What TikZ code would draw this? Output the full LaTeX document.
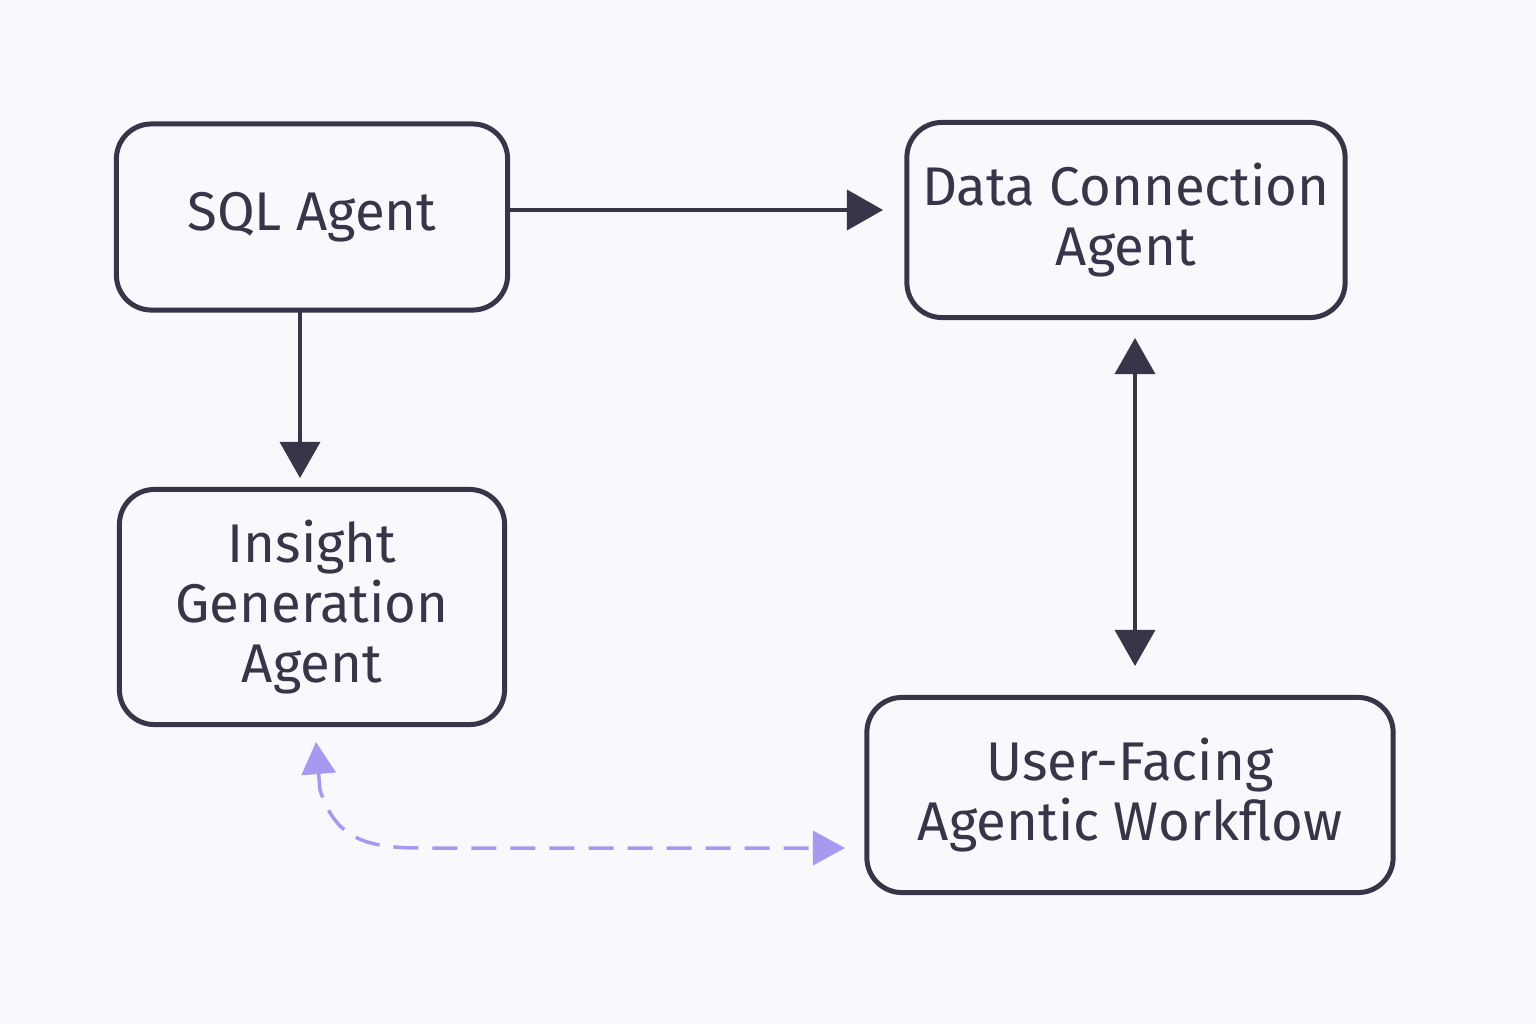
\documentclass[tikz,border=0pt]{standalone}
\usepackage{fontspec}
\setmainfont{Fira Sans}
\usetikzlibrary{arrows.meta}
\definecolor{ink}{HTML}{363648}
\definecolor{bg}{HTML}{F9F8FD}
\definecolor{lav}{HTML}{A899F0}
\begin{document}
\begin{tikzpicture}[x=0.01cm,y=-0.01cm,
  box/.style={draw=ink,line width=0.5mm,rounded corners=0.35cm,fill=bg,align=center,text=ink,inner sep=0pt,font=\fontsize{15.5}{17}\selectfont},
  arr/.style={draw=ink,line width=0.35mm,-{Triangle[length=0.36cm,width=0.4cm]}},
  darr/.style={draw=ink,line width=0.35mm,{Triangle[length=0.36cm,width=0.4cm]}-{Triangle[length=0.36cm,width=0.4cm]}},
  parr/.style={draw=lav,line width=0.35mm,dash pattern=on 0.25cm off 0.14cm,{Triangle[length=0.32cm,width=0.34cm]}-{Triangle[length=0.32cm,width=0.34cm]}}]
\fill[bg] (0,0) rectangle (1536,1024);
\node[box,minimum width=3.91cm,minimum height=1.86cm] (sql) at (312,217) {SQL Agent};
\node[box,minimum width=4.38cm,minimum height=1.95cm] (dc) at (1126,220) {Data Connection\\Agent};
\node[box,minimum width=3.85cm,minimum height=2.35cm] (ig) at (312,607) {Insight\\Generation\\Agent};
\node[box,minimum width=5.26cm,minimum height=1.95cm] (uf) at (1130,795) {User-Facing\\Agentic Workflow};
\coordinate (a1) at (sql.east |- 0,210);
\coordinate (a2) at (883,210);
\draw[arr] (a1) -- (a2);
\coordinate (b1) at (300,310);
\coordinate (b2) at (300,478);
\draw[arr] (b1) -- (b2);
\coordinate (c1) at (1135,338);
\coordinate (c2) at (1135,666);
\draw[darr] (c1) -- (c2);
\coordinate (d1) at (316,742);
\coordinate (d2) at (845,848);
\draw[parr] (d1) -- (320,790) .. controls (335,835) and (360,848) .. (420,848) -- (d2);
\end{tikzpicture}
\end{document}
